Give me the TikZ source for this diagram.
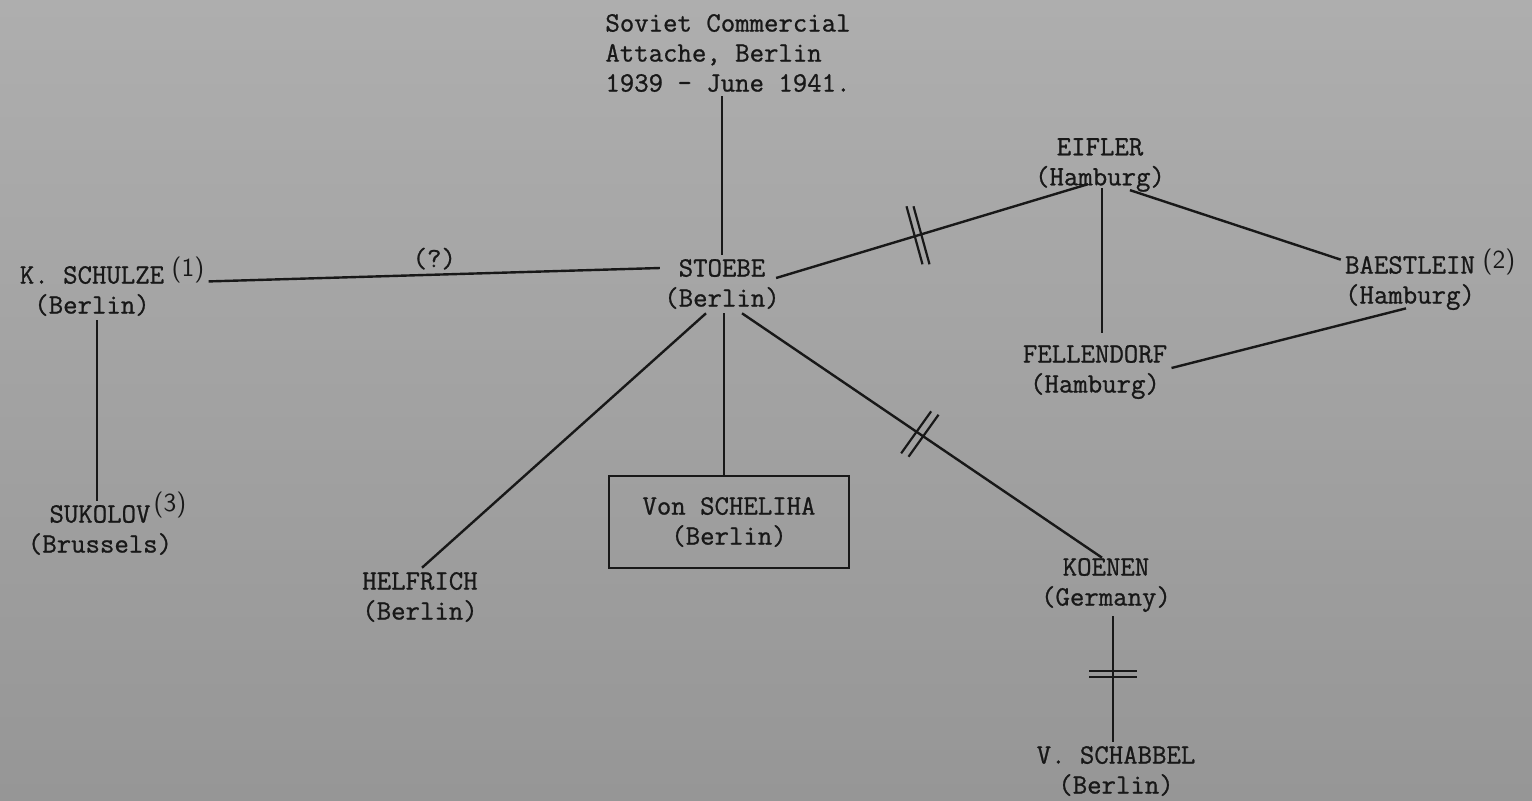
\documentclass[tikz,border=0pt]{standalone}
\usepackage{fontspec}
\newfontfamily\typedfam{Latin Modern Mono}[FakeBold=0.9]
\definecolor{ink}{RGB}{24,24,24}
\definecolor{papertop}{RGB}{174,174,174}
\definecolor{paperbot}{RGB}{150,150,150}
\newcommand\typedfont{\fontsize{14pt}{15pt}\selectfont\typedfam}
\newcommand\notefont{\fontsize{13pt}{13pt}\selectfont\sffamily}
\tikzset{
  person/.style={font=\typedfont, align=center, inner sep=2pt, text=ink},
  supnum/.style={font=\notefont, inner sep=2pt, text=ink},
  link/.style={draw=ink, line width=1.2pt},
  tick/.style={draw=ink, line width=1.1pt},
}
\begin{document}
\begin{tikzpicture}[x=0.5pt,y=-0.5pt]
  % paper
  \useasboundingbox (0,0) rectangle (1532,800);
  \shade[top color=papertop, bottom color=paperbot] (0,0) rectangle (1532,800);

  % header and people
  \node[person, align=left] (soviet) at (728,53) {Soviet Commercial\\Attache, Berlin\\1939 - June 1941.};
  \node[person] (stoebe) at (722,284) {STOEBE\\(Berlin)};
  \node[person] (schulze) at (92,291) {K. SCHULZE\\(Berlin)};
  \node[supnum] (n1) at (188,270) {(1)};
  \node[person] (sukolov) at (100,530) {SUKOLOV\\(Brussels)};
  \node[supnum] (n3) at (170,505) {(3)};
  \node[person] (helfrich) at (420,597) {HELFRICH\\(Berlin)};
  \node[person, draw=ink, line width=1pt, minimum width=120pt, minimum height=46pt] (scheliha) at (729,522) {Von SCHELIHA\\(Berlin)};
  \node[person] (koenen) at (1106,585) {KOENEN\\(Germany)};
  \node[person] (schabbel) at (1116,771) {V. SCHABBEL\\(Berlin)};
  \node[person] (eifler) at (1100,165) {EIFLER\\(Hamburg)};
  \node[person] (baestlein) at (1410,283) {BAESTLEIN\\(Hamburg)};
  \node[supnum] (n2) at (1499,262) {(2)};
  \node[person] (fellendorf) at (1095,372) {FELLENDORF\\(Hamburg)};

  % connections
  \draw[link] (stoebe.north) -- (stoebe.north |- soviet.south);
  \draw[link] ([yshift=3pt]n1.south east) -- node[person, above=0pt] (query) {(?)} ([yshift=8pt]stoebe.west);
  \draw[link] ([xshift=2.5pt]schulze.south) -- ([xshift=2.5pt]schulze.south |- sukolov.north);
  \draw[link] ([xshift=-8pt]stoebe.south) -- ([xshift=1pt]helfrich.north);
  \draw[link] ([xshift=1pt]stoebe.south) -- ([xshift=1pt]stoebe.south |- scheliha.north);
  \draw[link] ([xshift=10pt]stoebe.south) -- coordinate[pos=0.494] (m2) ([shift={(-2pt,-2pt)}]koenen.north);
  \draw[link] ([xshift=3.5pt]koenen.south) -- coordinate[pos=0.46] (m3) ([xshift=3.5pt]koenen.south |- schabbel.north);
  \draw[link] ([shift={(-4pt,3pt)}]stoebe.east) -- coordinate[pos=0.455] (m1) ([shift={(-6pt,6pt)}]eifler.south);
  \draw[link] ([shift={(1pt,4pt)}]eifler.south) -- ([shift={(1pt,4pt)}]eifler.south |- fellendorf.north);
  \draw[link] ([shift={(15pt,3pt)}]eifler.south) -- ([yshift=-4pt]baestlein.north west);
  \draw[link] ([yshift=2pt]fellendorf.east) -- ([shift={(-2pt,3pt)}]baestlein.south);

  % cut marks across links
  \draw[tick] ([shift={(-11.5,-29)}]m1) -- ++(16,58);
  \draw[tick] ([shift={(-4.5,-29)}]m1) -- ++(16,58);
  \draw[tick] ([shift={(-18.7,19.3)}]m2) -- ++(30,-42);
  \draw[tick] ([shift={(-11.3,22.7)}]m2) -- ++(30,-42);
  \draw[tick] ([shift={(-24,-3)}]m3) -- ++(48,0);
  \draw[tick] ([shift={(-24,3)}]m3) -- ++(48,0);
\end{tikzpicture}
\end{document}
